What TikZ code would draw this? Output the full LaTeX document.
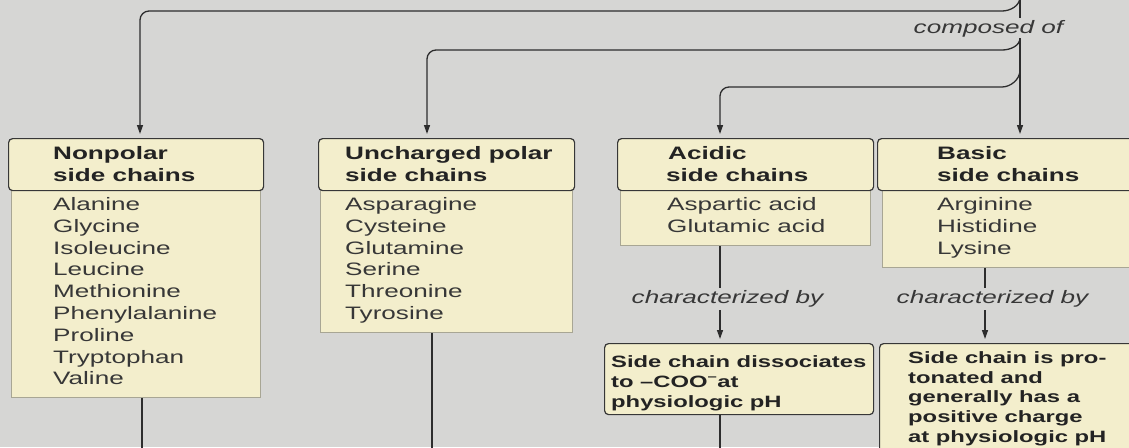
\documentclass[tikz,border=0pt]{standalone}
\usepackage{fontspec}
\setmainfont[FakeStretch=1.45]{Liberation Sans}
\usetikzlibrary{arrows.meta}
\definecolor{bg}{RGB}{214,214,212}
\definecolor{boxfill}{RGB}{243,238,204}
\definecolor{listborder}{RGB}{168,166,148}
\definecolor{hdrborder}{RGB}{55,55,55}
\definecolor{linecol}{RGB}{45,45,45}
\definecolor{hdrtext}{RGB}{35,35,35}
\definecolor{txt}{RGB}{55,55,55}
\begin{document}
\begin{tikzpicture}[x=1pt,y=-1pt,
  hdr/.style={draw=hdrborder, line width=1.2pt, fill=boxfill, rounded corners=4pt, inner sep=0pt, anchor=north west},
  lst/.style={draw=listborder, line width=0.8pt, fill=boxfill, inner sep=0pt, anchor=north west},
  conn/.style={draw=linecol, line width=1.3pt},
  arr/.style={conn, -{Triangle[length=9pt,width=6pt]}, shorten >=4pt},
  ht/.style={anchor=base west, inner sep=0pt, font=\fontsize{18}{22}\selectfont\bfseries, text=hdrtext},
  lt/.style={anchor=base west, inner sep=0pt, font=\fontsize{18}{22}\selectfont, text=txt},
  bt/.style={anchor=base west, inner sep=0pt, font=\fontsize{16.4}{20}\selectfont\bfseries, text=hdrtext},
  it/.style={anchor=base west, inner sep=2.5pt, fill=bg, font=\fontsize{18}{22}\selectfont\itshape, text=txt},
]
\useasboundingbox (0,0) rectangle (1129,447);
\clip (0,0) rectangle (1129,447);
\fill[bg] (0,0) rectangle (1129,447);

% boxes
\node[lst, minimum width=249pt, minimum height=207pt] (npl) at (11,190) {};
\node[hdr, minimum width=255pt, minimum height=52pt] (nph) at (8,138) {};
\node[lst, minimum width=252pt, minimum height=142pt] (ucl) at (320,190) {};
\node[hdr, minimum width=256pt, minimum height=52pt] (uch) at (318,138) {};
\node[lst, minimum width=250pt, minimum height=55pt] (acl) at (620,190) {};
\node[hdr, minimum width=256pt, minimum height=52pt] (ach) at (617,138) {};
\node[lst, minimum width=262pt, minimum height=77pt] (bal) at (882,190) {};
\node[hdr, minimum width=272pt, minimum height=52pt] (bah) at (877,138) {};
\node[hdr, minimum width=269pt, minimum height=71pt] (sb1) at (604,343) {};
\node[hdr, minimum width=262pt, minimum height=125pt] (sb2) at (879,343) {};

% header texts
\node[ht] (t-np1) at (53,159) {Nonpolar};
\node[ht] (t-np2) at (53,181) {side chains};
\node[ht] (t-uc1) at (345,159) {Uncharged polar};
\node[ht] (t-uc2) at (345,181) {side chains};
\node[ht] (t-ac1) at (668,159) {Acidic};
\node[ht] (t-ac2) at (666,181) {side chains};
\node[ht] (t-ba1) at (937,159) {Basic};
\node[ht] (t-ba2) at (937,181) {side chains};

% lists
\foreach \n [count=\k from 0] in {Alanine,Glycine,Isoleucine,Leucine,Methionine,Phenylalanine,Proline,Tryptophan,Valine}
  \node[lt] (np-\k) at (53,210.5+21.8*\k) {\n};
\foreach \n [count=\k from 0] in {Asparagine,Cysteine,Glutamine,Serine,Threonine,Tyrosine}
  \node[lt] (uc-\k) at (345,210.5+21.8*\k) {\n};
\foreach \n [count=\k from 0] in {Aspartic acid,Glutamic acid}
  \node[lt] (ac-\k) at (667,210.5+21.8*\k) {\n};
\foreach \n [count=\k from 0] in {Arginine,Histidine,Lysine}
  \node[lt] (ba-\k) at (937,210.5+21.8*\k) {\n};

% lower box texts
\node[bt] (s1-0) at (611,367) {Side chain dissociates};
\node[bt] (s1-1) at (611,387) {to --COO\textsuperscript{--}at};
\node[bt] (s1-2) at (611,407) {physiologic pH};
\node[bt] (s2-0) at (908,363.5) {Side chain is pro-};
\node[bt] (s2-1) at (908,383.2) {tonated and};
\node[bt] (s2-2) at (908,402.9) {generally has a};
\node[bt] (s2-3) at (908,422.6) {positive charge};
\node[bt] (s2-4) at (908,442.3) {at physiologic pH};

% connectors from top
\coordinate (top) at (1020,-5);
\coordinate (x1) at (140,0);
\coordinate (x2) at (427,0);
\coordinate (x3) at (720,0);
\coordinate (bot) at (0,460);
\draw[arr] (top) -- (top |- bah.north);
\draw[arr, rounded corners=9pt] (1020,-3) .. controls (1020,6) and (1010,11) .. (993,11) -- (x1 |- 0,11) -- (x1 |- nph.north);
\draw[arr, rounded corners=9pt] (1020,38) .. controls (1020,46) and (1010,50) .. (993,50) -- (x2 |- 0,50) -- (x2 |- uch.north);
\draw[arr, rounded corners=9pt] (1020,70) .. controls (1020,80) and (1010,87) .. (993,87) -- (x3 |- 0,87) -- (x3 |- ach.north);
\node[it, inner sep=1.5pt] (comp) at (912,33) {composed of};

% lower connectors
\coordinate (c0) at (142,0);
\coordinate (c1) at (432,0);
\coordinate (c2) at (720,0);
\coordinate (c3) at (985,0);
\draw[conn] (c0 |- npl.south) -- (c0 |- bot);
\draw[conn] (c1 |- ucl.south) -- (c1 |- bot);
\draw[arr] (c2 |- acl.south) -- (c2 |- sb1.north);
\draw[arr] (c3 |- bal.south) -- (c3 |- sb2.north);
\draw[conn] (c2 |- sb1.south) -- (c2 |- bot);
\node[it] (ch1) at (629,303.5) {characterized by};
\node[it] (ch2) at (894,303.5) {characterized by};
\end{tikzpicture}
\end{document}
